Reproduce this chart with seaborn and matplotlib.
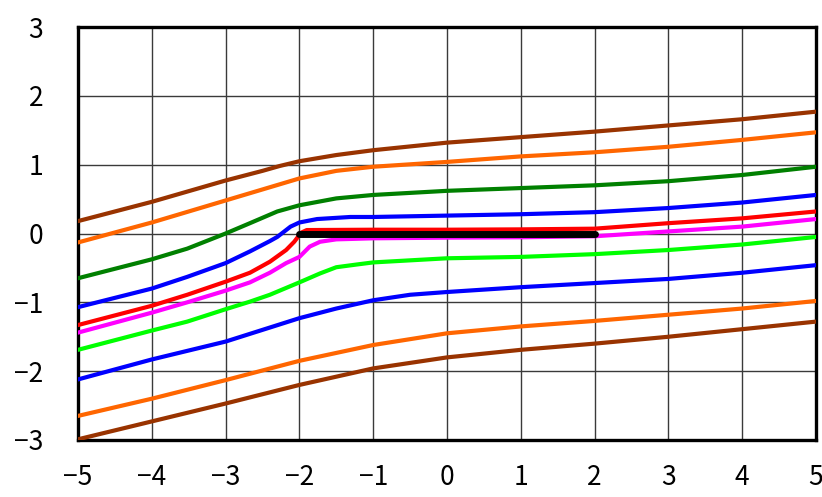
import numpy as np
import pandas as pd
import matplotlib
matplotlib.use("Agg")
import matplotlib.pyplot as plt
import seaborn as sns

# streamlines (x, y per curve)
brown_top_x = [-5, -4, -3, -2.5, -2.27, -2, -1.5, -1, 0, 1, 2, 3, 4, 5]
brown_top_y = [0.18, 0.46, 0.77, 0.91, 0.98, 1.05, 1.14, 1.21, 1.32, 1.40, 1.48, 1.57, 1.66, 1.77]

orange_top_x = [-5, -4, -3, -2.5, -2, -1.5, -1, 0, 1, 2, 3, 4, 5]
orange_top_y = [-0.13, 0.16, 0.48, 0.64, 0.80, 0.91, 0.97, 1.04, 1.12, 1.18, 1.26, 1.36, 1.47]

green_x = [-5, -4, -3.52, -3, -2.67, -2.3, -2, -1.5, -1, 0, 1, 2, 3, 4, 5]
green_y = [-0.65, -0.375, -0.22, 0.0, 0.15, 0.32, 0.41, 0.51, 0.56, 0.62, 0.66, 0.70, 0.76, 0.85, 0.97]

blue_top_x = [-5, -4, -3.52, -3, -2.67, -2.4, -2.3, -2.18, -2.12, -2, -1.76, -1.31, -1, 0, 1, 2, 3, 4, 5]
blue_top_y = [-1.07, -0.80, -0.63, -0.43, -0.26, -0.11, -0.05, 0.05, 0.10, 0.16, 0.21, 0.24, 0.24,
              0.26, 0.28, 0.31, 0.37, 0.45, 0.56]

red_x = [-5, -4, -3.52, -3, -2.67, -2.4, -2.18, -2.07, -2.02, -2.0, -1.9, -1, 0, 1, 2, 3, 4, 5]
red_y = [-1.33, -1.05, -0.89, -0.70, -0.57, -0.41, -0.24, -0.12, -0.05, 0.0, 0.05, 0.055, 0.055, 0.06,
         0.07, 0.15, 0.22, 0.32]

magenta_x = [-5, -4, -3.52, -3, -2.67, -2.4, -2.18, -2, -1.86, -1.72, -1.5, -1, 0, 1, 2, 3, 4, 5]
magenta_y = [-1.44, -1.15, -1.0, -0.83, -0.71, -0.57, -0.43, -0.34, -0.19, -0.12, -0.085, -0.07,
             -0.06, -0.055, -0.04, 0.03, 0.10, 0.21]

lime_x = [-5, -4, -3.52, -3, -2.67, -2.4, -2, -1.72, -1.5, -1.22, -1, 0, 1, 2, 3, 4, 5]
lime_y = [-1.69, -1.41, -1.28, -1.10, -0.99, -0.89, -0.71, -0.58, -0.49, -0.45, -0.42, -0.36, -0.34,
          -0.30, -0.24, -0.16, -0.05]

blue_bot_x = [-5, -4, -3, -2, -1.5, -1, -0.5, 0, 1, 2, 3, 4, 5]
blue_bot_y = [-2.12, -1.83, -1.57, -1.23, -1.09, -0.97, -0.89, -0.85, -0.78, -0.72, -0.66, -0.57, -0.46]

orange_bot_x = [-5, -4, -3, -2, -1, 0, 1, 2, 3, 4, 5]
orange_bot_y = [-2.65, -2.40, -2.13, -1.85, -1.62, -1.45, -1.35, -1.27, -1.18, -1.09, -0.98]

brown_bot_x = [-5, -4, -3, -2, -1, 0, 1, 2, 3, 4, 5]
brown_bot_y = [-2.99, -2.73, -2.47, -2.20, -1.96, -1.80, -1.69, -1.60, -1.50, -1.39, -1.28]

plate_x = [-2, 2]
plate_y = [0, 0]

curves = [
    ("brown_top", brown_top_x, brown_top_y, "#993300"),
    ("orange_top", orange_top_x, orange_top_y, "#ff6600"),
    ("green", green_x, green_y, "#008000"),
    ("blue_top", blue_top_x, blue_top_y, "#0000ff"),
    ("lime", lime_x, lime_y, "#00ff00"),
    ("blue_bot", blue_bot_x, blue_bot_y, "#0000ff"),
    ("orange_bot", orange_bot_x, orange_bot_y, "#ff6600"),
    ("brown_bot", brown_bot_x, brown_bot_y, "#993300"),
    ("magenta", magenta_x, magenta_y, "#ff00ff"),
    ("red", red_x, red_y, "#ff0000"),
]

rows = []
for name, xs, ys, _ in curves:
    for i, (x, y) in enumerate(zip(xs, ys)):
        rows.append({"curve": name, "order": i, "x": x, "y": y})
df = pd.DataFrame(rows)
palette = {name: c for name, _, _, c in curves}

sns.set_style("white")
plt.rcParams['font.family'] = ['Noto Sans CJK JP', 'DejaVu Sans']

fig = plt.figure(figsize=(8.22, 4.97), dpi=100)
ax = fig.add_axes([78 / 822, 1 - 440 / 497, (816 - 78) / 822, (440 - 27) / 497])

sns.lineplot(data=df, x="x", y="y", hue="curve", units="curve", estimator=None,
             sort=False, palette=palette, hue_order=[c[0] for c in curves],
             linewidth=3.0, legend=False, ax=ax, zorder=3)
sns.lineplot(x=plate_x, y=plate_y, color="black", linewidth=5.0,
             solid_capstyle="round", ax=ax, zorder=4)

ax.set_xlim(-5, 5)
ax.set_ylim(-3, 3)
ax.set_xticks(range(-5, 6))
ax.set_yticks(range(-3, 4))
ax.set_xticklabels([str(v).replace('-', '\u2212') for v in range(-5, 6)])
ax.set_yticklabels([str(v).replace('-', '\u2212') for v in range(-3, 4)])
ax.grid(True, color="#3a3a3a", linewidth=1.0, zorder=1)
ax.set_axisbelow(True)
ax.set_xlabel("")
ax.set_ylabel("")
for s in ax.spines.values():
    s.set_color("black")
    s.set_linewidth(2.4)
ax.tick_params(axis="both", direction="in", length=5, width=1.5, color="black",
               labelsize=19, labelcolor="black")
ax.tick_params(axis="x", pad=17)
ax.tick_params(axis="y", pad=25)

fig.savefig("out.png", dpi=100)
